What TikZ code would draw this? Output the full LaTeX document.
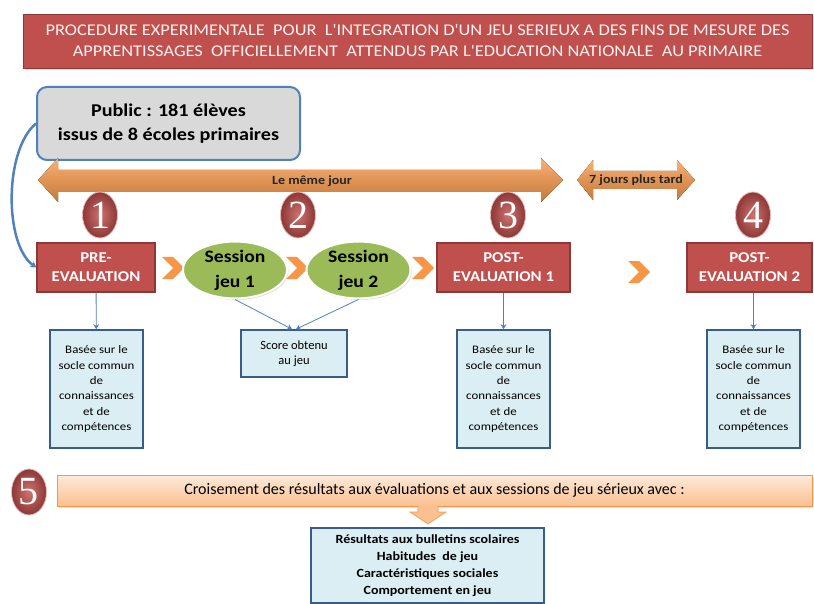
\documentclass[tikz,border=0pt]{standalone}
\usepackage{fontspec}
\setmainfont{Carlito}
\newfontfamily\widefont[FakeStretch=1.12]{Carlito}
\newfontfamily\numfont{Liberation Serif}
\usetikzlibrary{positioning,shapes.geometric,shapes.symbols,arrows.meta,shadows}

\definecolor{evalred}{HTML}{C0504D}
\definecolor{evalredd}{HTML}{8C3836}
\definecolor{pubgrey}{HTML}{D9D9D9}
\definecolor{linkblue}{HTML}{4F81BD}
\definecolor{boxblue}{HTML}{DBEEF4}
\definecolor{boxedge}{HTML}{385D8A}
\definecolor{jeugreen}{HTML}{9BBB59}
\definecolor{arrorange}{HTML}{F79646}
\definecolor{arrorangel}{HTML}{FAC090}
\definecolor{barpeach}{HTML}{FDEADA}

\tikzset{
  titlebox/.style={draw=evalredd, line width=0.8pt, fill=evalred, text=white!92!evalred,
    font=\widefont\fontsize{16.4}{21}\selectfont, align=center, inner sep=0pt,
    drop shadow={shadow xshift=2pt, shadow yshift=-2pt, opacity=0.25}},
  redbox/.style={draw=evalredd, line width=1.2pt, fill=evalred, text=white,
    font=\widefont\bfseries\fontsize{15}{19}\selectfont, align=center, inner sep=0pt, minimum height=49pt},
  infobox/.style={draw=boxedge, line width=1.6pt, fill=boxblue, align=center, inner sep=0pt,
    font=\widefont\fontsize{11.5}{15.3}\selectfont},
  jeu/.style={ellipse, draw=white, line width=2pt, fill=jeugreen, align=center, inner sep=0pt,
    minimum width=104pt, minimum height=55pt, font=\widefont\bfseries\fontsize{17.5}{25}\selectfont,
    drop shadow={shadow xshift=1.5pt, shadow yshift=-1.5pt, opacity=0.25}},
  numcircle/.style={ellipse, minimum width=35pt, minimum height=46pt, inner sep=0pt,
    draw=white!60!evalred, line width=0.8pt, inner color=evalred!80!white, outer color=evalredd,
    text=white, font=\numfont\fontsize{40}{40}\selectfont},
  chevron/.style={signal, signal from=west, signal to=east, fill=arrorange,
    minimum width=20pt, minimum height=22pt, inner sep=0pt},
  link/.style={draw=linkblue, line width=0.8pt, -{Stealth[length=5pt, width=6pt]}},
  daylabel/.style={text=black!85, font=\widefont\bfseries\fontsize{12.5}{13}\selectfont}
}

\begin{document}
\begin{tikzpicture}[x=1pt, y=-1pt]
\useasboundingbox (0,0) rectangle (814,604);

% titre
\node[titlebox, minimum width=789pt, minimum height=54pt] (title) at (417.5,41)
  {PROCEDURE EXPERIMENTALE\ \ POUR\ \ L'INTEGRATION D'UN JEU SERIEUX A DES FINS DE MESURE DES\\
   APPRENTISSAGES\ \ OFFICIELLEMENT\ \ ATTENDUS PAR L'EDUCATION NATIONALE\ \ AU PRIMAIRE};

% public
\node[draw=linkblue, line width=2pt, fill=pubgrey, rounded corners=10pt, align=center,
  minimum width=263pt, minimum height=73pt, inner sep=0pt,
  font=\widefont\bfseries\fontsize{18}{24}\selectfont] (public) at (168.5,123.5)
  {Public : 181 élèves\\ issus de 8 écoles primaires};

% fleches de temps
\fill[top color=arrorange!75!white, bottom color=arrorange!80!black]
  (38,180) -- (58,158) -- (58,170) -- (541,170) -- (541,158) -- (563,180)
  -- (541,202) -- (541,192) -- (58,192) -- (58,202) -- cycle;
\node[daylabel] (jour) at (312,181) {Le même jour};
\fill[top color=arrorange!75!white, bottom color=arrorange!80!black]
  (577,180) -- (593,160) -- (593,171) -- (677,171) -- (677,160) -- (695,180)
  -- (677,200) -- (677,189) -- (593,189) -- (593,200) -- cycle;
\node[daylabel] (tard) at (636,180) {7 jours plus tard};

% numeros
\node[numcircle] (n1) at (100,215) {1};
\node[numcircle] (n2) at (298,215) {2};
\node[numcircle] (n3) at (508,215) {3};
\node[numcircle] (n4) at (753,215) {4};
\node[numcircle] (n5) at (29,492) {5};

% etapes
\node[redbox, minimum width=118pt] (pre) at (96,267.5) {PRE-\\EVALUATION};
\node[chevron] (ch1) at (173,268) {};
\node[jeu] (s1) at (235,270) {Session\\jeu 1};
\node[chevron] (ch2) at (297,268) {};
\node[jeu] (s2) at (358.5,270) {Session\\jeu 2};
\node[chevron] (ch3) at (423,268) {};
\node[redbox, minimum width=133pt] (post1) at (503.5,267.5) {POST-\\EVALUATION 1};
\node[chevron] (ch4) at (639,272) {};
\node[redbox, minimum width=125pt] (post2) at (749.5,267.5) {POST-\\EVALUATION 2};

\draw[linkblue, line width=2.5pt, -{Stealth[length=6pt, width=7pt]}]
  (public.west) .. controls (4,150) and (4,245) .. (pre.west);

% contenus
\node[infobox, minimum width=93pt, minimum height=118pt] (b1) at (96.5,389)
  {Basée sur le\\ socle commun\\ de\\ connaissances\\ et de\\ compétences};
\node[infobox, minimum width=106pt, minimum height=47pt, font=\fontsize{12.5}{15.3}\selectfont]
  (score) at (294,353.5) {Score obtenu\\ au jeu};
\node[infobox, minimum width=93pt, minimum height=118pt] (b3) at (503.5,389)
  {Basée sur le\\ socle commun\\ de\\ connaissances\\ et de\\ compétences};
\node[infobox, minimum width=93pt, minimum height=118pt] (b4) at (753.5,389)
  {Basée sur le\\ socle commun\\ de\\ connaissances\\ et de\\ compétences};

\draw[link] (pre) -- (b1);
\draw[link] (s1.south) -- ([xshift=-2pt]score.north);
\draw[link] (s2.south) -- ([xshift=2pt]score.north);
\draw[link] (post1) -- (b3);
\draw[link] (b4.north |- post2.south) -- (b4.north);

% croisement
\node[draw=arrorange, line width=0.8pt, top color=barpeach, bottom color=arrorangel,
  minimum width=755pt, minimum height=31pt, inner sep=0pt,
  font=\fontsize{16}{17}\selectfont,
  drop shadow={shadow xshift=1.5pt, shadow yshift=-1.5pt, opacity=0.2}] (bar) at (434.5,490.5)
  {Croisement des résultats aux évaluations et aux sessions de jeu sérieux avec :};
\fill[arrorangel] (418,505.6) -- (418,512) -- (410,512) -- (428,524) -- (446,512)
  -- (438,512) -- (438,505.6) -- cycle;
\draw[arrorange, line width=0.6pt] (418,506.4) -- (418,512) -- (410,512) -- (428,524)
  -- (446,512) -- (438,512) -- (438,506.4);

\node[infobox, minimum width=233pt, minimum height=75pt,
  font=\widefont\bfseries\fontsize{12.5}{17}\selectfont] (liste) at (427.5,565.5)
  {Résultats aux bulletins scolaires\\ Habitudes\ \ de jeu\\ Caractéristiques sociales\\ Comportement en jeu};
\end{tikzpicture}
\end{document}
